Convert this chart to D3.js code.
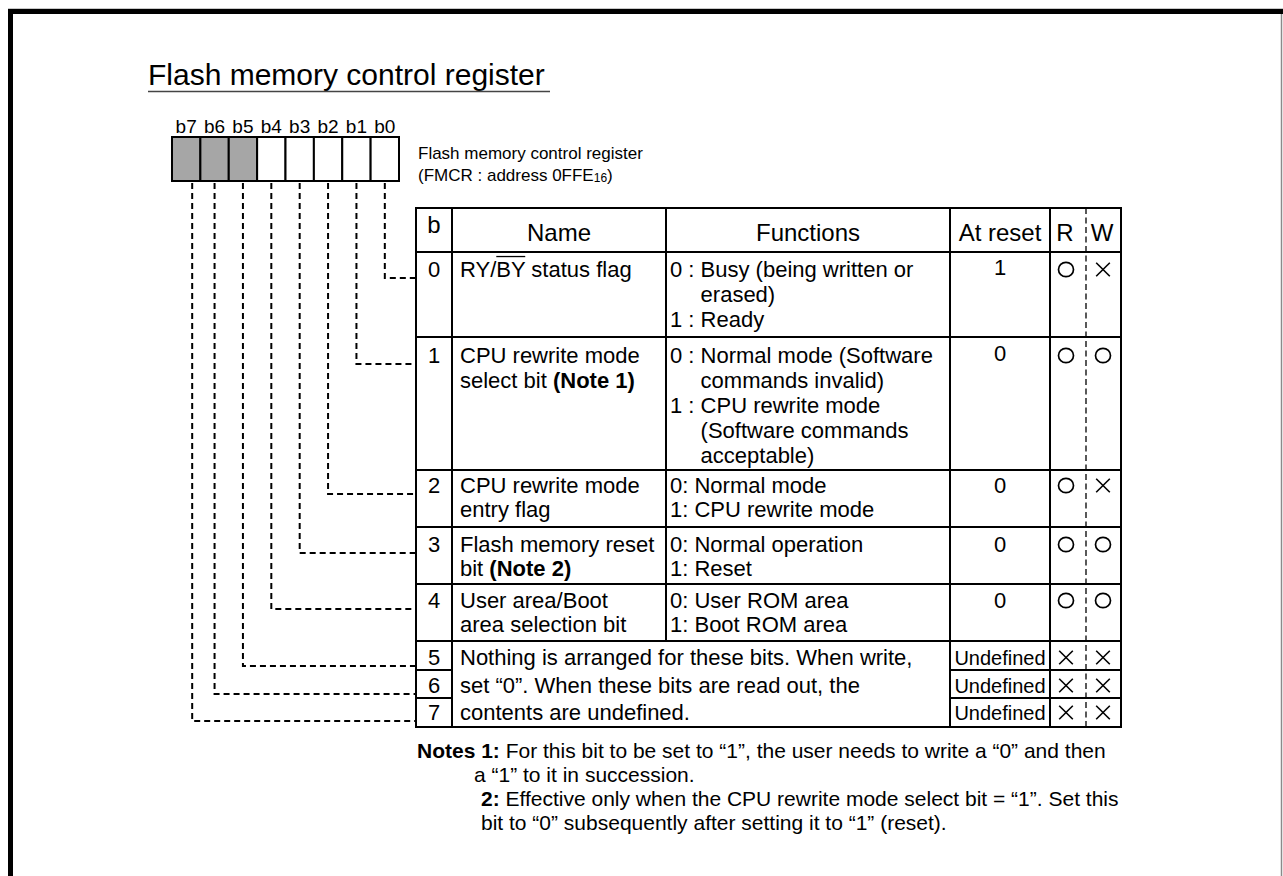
<!DOCTYPE html>
<html><head><meta charset="utf-8">
<script src="https://cdn.jsdelivr.net/npm/d3@7"></script>
<style>
html,body{margin:0;padding:0;background:#fff;}
svg{display:block;}
text{font-family:"Liberation Sans",Arial,Helvetica,sans-serif;fill:#000;}
</style>
</head><body>
<svg id="c" width="1283" height="876"></svg>
<script>
// ---------------- data ----------------
const title = "Flash memory control register";
const registerName = "Flash memory control register";
const registerAddress = ["(FMCR : address 0FFE", "16", ")"];
const bitLabels = ["b7","b6","b5","b4","b3","b2","b1","b0"];
const reservedBits = ["b7","b6","b5"];
const headers = ["b","Name","Functions","At reset","R","W"];
const bitNumbers = [0,1,2,3,4,5,6,7];
const bitNames = [
  ["RY/~BY~ status flag"],
  ["CPU rewrite mode","select bit **(Note 1)**"],
  ["CPU rewrite mode","entry flag"],
  ["Flash memory reset","bit **(Note 2)**"],
  ["User area/Boot","area selection bit"]
];
const bitFunctions = [
  [["0 :","Busy (being written or","erased)"],["1 :","Ready"]],
  [["0 :","Normal mode (Software","commands invalid)"],["1 :","CPU rewrite mode","(Software commands","acceptable)"]],
  [["0:","Normal mode"],["1:","CPU rewrite mode"]],
  [["0:","Normal operation"],["1:","Reset"]],
  [["0:","User ROM area"],["1:","Boot ROM area"]]
];
const reservedText = [
  "Nothing is arranged for these bits. When write,",
  "set \u201C0\u201D. When these bits are read out, the",
  "contents are undefined."
];
const resetValues = ["1","0","0","0","0","Undefined","Undefined","Undefined"];
const readAccess  = ["O","O","O","O","O","X","X","X"];
const writeAccess = ["X","O","X","O","O","X","X","X"];
const notesLines = [
  "**Notes 1:** For this bit to be set to \u201C1\u201D, the user needs to write a \u201C0\u201D and then",
  "a \u201C1\u201D to it in succession.",
  "**2:** Effective only when the CPU rewrite mode select bit = \u201C1\u201D. Set this",
  "bit to \u201C0\u201D subsequently after setting it to \u201C1\u201D (reset)."
];

// ---------------- layout ----------------
const svg = d3.select("#c");
svg.append("rect").attr("width",1283).attr("height",876).attr("fill","#fff");

// frame
svg.append("line").attr("x1",8).attr("x2",1283).attr("y1",8.5).attr("y2",8.5).attr("stroke","#c8c8c8").attr("stroke-width",1);
svg.append("rect").attr("x",8).attr("y",9).attr("width",1275).attr("height",5).attr("fill","#000");
svg.append("rect").attr("x",8).attr("y",9).attr("width",5).attr("height",867).attr("fill","#000");
svg.append("line").attr("x1",1281.5).attr("x2",1281.5).attr("y1",14).attr("y2",876).attr("stroke","#8a8a8a").attr("stroke-width",1.5);

// title
svg.append("text").attr("x",148).attr("y",85).style("font-size","30px").text(title);
svg.append("line").attr("x1",148).attr("x2",550).attr("y1",91.5).attr("y2",91.5).attr("stroke","#444").attr("stroke-width",1.5);

// bit boxes
const xBit = d3.scaleBand().domain(bitLabels).range([172,399]).paddingInner(0);
const boxTop = 137, boxBottom = 181;
const bitG = svg.append("g");
bitG.selectAll("rect").data(bitLabels).join("rect")
  .attr("x",d=>xBit(d)).attr("y",boxTop).attr("width",xBit.bandwidth()).attr("height",boxBottom-boxTop)
  .attr("fill",d=>reservedBits.includes(d)?"#a6a6a6":"#fff").attr("stroke","#000").attr("stroke-width",2);
bitG.selectAll("text").data(bitLabels).join("text")
  .attr("x",d=>xBit(d)+xBit.bandwidth()/2).attr("y",133).attr("text-anchor","middle")
  .style("font-size","19px").text(d=>d);

// register name
svg.append("text").attr("x",418).attr("y",159).style("font-size","17px").text(registerName);
const addr = svg.append("text").attr("x",418).attr("y",181).style("font-size","17px");
addr.append("tspan").text(registerAddress[0]);
addr.append("tspan").style("font-size","12px").attr("dy",1).text(registerAddress[1]);
addr.append("tspan").attr("dy",-1).text(registerAddress[2]);

// table geometry
const col = {left:416, b:452, name:666, reset:950, r:1050, rw:1086, right:1121};
const tableTop = 208, headerH = 44;
const rowHeights = [85,133,57,57,57,29,28,29];
const baselineOffsets = [25,26,23,25,24,24,23,22];
const lineSpacing = [25,25,23.5,23.5,23.5];
const rowTops = [];
{ let y = tableTop + headerH; rowHeights.forEach(h=>{ rowTops.push(y); y += h; }); }
const tableBottom = rowTops[7] + rowHeights[7];
const yRow = d3.scaleOrdinal().domain(bitNumbers).range(rowTops);
const baseY = b => yRow(b) + baselineOffsets[b];

const tg = svg.append("g");
const lineAttr = (sel)=>sel.attr("stroke","#000").attr("stroke-width",2).attr("fill","none");
tg.append("rect").attr("x",col.left).attr("y",tableTop).attr("width",col.right-col.left).attr("height",tableBottom-tableTop).call(lineAttr);
[[col.b,tableTop,tableBottom],[col.name,tableTop,rowTops[5]],[col.reset,tableTop,tableBottom],[col.r,tableTop,tableBottom]]
  .forEach(([x,y1,y2])=>tg.append("line").attr("x1",x).attr("x2",x).attr("y1",y1).attr("y2",y2).call(lineAttr));
tg.append("line").attr("x1",col.left).attr("x2",col.right).attr("y1",tableTop+headerH).attr("y2",tableTop+headerH).call(lineAttr);
bitNumbers.slice(1).forEach(b=>{
  const y = yRow(b);
  if (b <= 5) {
    tg.append("line").attr("x1",col.left).attr("x2",col.right).attr("y1",y).attr("y2",y).call(lineAttr);
  } else {
    tg.append("line").attr("x1",col.left).attr("x2",col.b).attr("y1",y).attr("y2",y).call(lineAttr);
    tg.append("line").attr("x1",col.reset).attr("x2",col.right).attr("y1",y).attr("y2",y).call(lineAttr);
  }
});
tg.append("line").attr("x1",col.rw).attr("x2",col.rw).attr("y1",tableTop).attr("y2",tableBottom)
  .attr("stroke","#000").attr("stroke-width",1.3).attr("stroke-dasharray","6,3.5");

// headers
const hx = [434, (col.b+col.name)/2, (col.name+col.reset)/2, (col.reset+col.r)/2, 1065, 1102];
const hy = [233,241,241,241,241,241];
tg.selectAll("text.h").data(headers).join("text").attr("class","h")
  .attr("x",(d,i)=>hx[i]).attr("y",(d,i)=>hy[i]).attr("text-anchor","middle")
  .style("font-size","24px").text(d=>d);

function richText(sel, str, x, y, size){
  const t = sel.append("text").attr("x",x).attr("y",y).style("font-size",size+"px");
  const parts = str.split(/(\*\*[^*]+\*\*|~[^~]+~)/).filter(s=>s);
  let idx = 0; const overs = [];
  parts.forEach(p=>{
    if (p.startsWith("**")) { const s=p.slice(2,-2); t.append("tspan").style("font-weight","bold").text(s); idx+=s.length; }
    else if (p.startsWith("~")) { const s=p.slice(1,-1); t.append("tspan").text(s); overs.push([idx,s.length]); idx+=s.length; }
    else { t.append("tspan").text(p); idx+=p.length; }
  });
  overs.forEach(([i,n])=>{
    const node=t.node();
    const x0=node.getStartPositionOfChar(i).x, x1=node.getEndPositionOfChar(i+n-1).x;
    sel.append("line").attr("x1",x0).attr("x2",x1).attr("y1",y-size*0.93).attr("y2",y-size*0.93)
      .attr("stroke","#000").attr("stroke-width",1.3);
  });
  return t;
}

tg.selectAll("text.bn").data(bitNumbers).join("text").attr("class","bn")
  .attr("x",434).attr("y",d=>baseY(d)).attr("text-anchor","middle").style("font-size","22px").text(d=>d);

bitNames.forEach((lines,b)=>{
  lines.forEach((ln,k)=>richText(tg, ln, 460, baseY(b)+k*lineSpacing[b], 22));
});
bitFunctions.forEach((groups,b)=>{
  let k = 0;
  groups.forEach(g=>{
    const t = tg.append("text").attr("x",670).attr("y",baseY(b)+k*lineSpacing[b]).style("font-size","22px")
      .text(g[0]+" "+g[1]);
    const indent = t.node().getSubStringLength(0, g[0].length+1);
    k++;
    g.slice(2).forEach(ln=>{
      tg.append("text").attr("x",670+indent).attr("y",baseY(b)+k*lineSpacing[b]).style("font-size","22px").text(ln);
      k++;
    });
  });
});
reservedText.forEach((ln,k)=>{
  tg.append("text").attr("x",460).attr("y",baseY(5+k)).style("font-size","22px").text(ln);
});

tg.selectAll("text.rv").data(resetValues).join("text").attr("class","rv")
  .attr("x",(col.reset+col.r)/2).attr("y",(d,i)=>baseY(i)-(i<2?2:0)).attr("text-anchor","middle")
  .style("font-size",d=>d.length>2?"20px":"22px").text(d=>d);

function symbol(g, type, cx, cy){
  if (type==="O") g.append("ellipse").attr("cx",cx).attr("cy",cy).attr("rx",7.5).attr("ry",7.2).attr("fill","none").attr("stroke","#000").attr("stroke-width",1.7);
  else {
    g.append("line").attr("x1",cx-6.8).attr("x2",cx+6.8).attr("y1",cy-6.8).attr("y2",cy+6.8).attr("stroke","#000").attr("stroke-width",1.6);
    g.append("line").attr("x1",cx-6.8).attr("x2",cx+6.8).attr("y1",cy+6.8).attr("y2",cy-6.8).attr("stroke","#000").attr("stroke-width",1.6);
  }
}
bitNumbers.forEach(b=>{
  symbol(tg, readAccess[b], 1066, baseY(b)-7.5);
  symbol(tg, writeAccess[b], 1103, baseY(b)-7.5);
});

const cg = svg.append("g").attr("fill","none").attr("stroke","#000").attr("stroke-width",2).attr("stroke-dasharray","6,4");
bitLabels.forEach(lbl=>{
  const b = +lbl.slice(1);
  const x = xBit(lbl)+xBit.bandwidth()/2 + (b===7?6:0);
  const y = baseY(b)+1;
  cg.append("path").attr("d", d3.line()([[x,boxBottom+2],[x,y],[col.left,y]]));
});

const noteX = [417,474,481,481];
const noteY = [758,782,806,830];
notesLines.forEach((ln,i)=>richText(svg, ln, noteX[i], noteY[i], 21));
</script>
</body></html>
